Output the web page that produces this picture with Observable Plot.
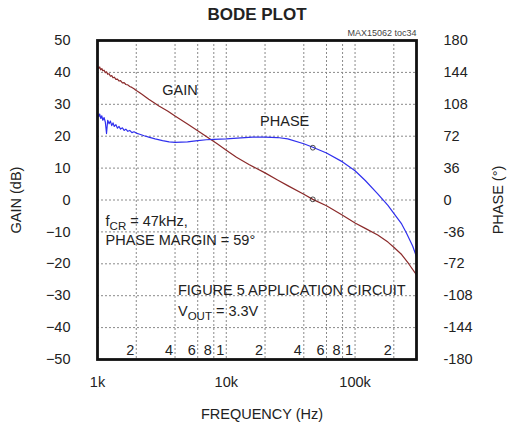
<!DOCTYPE html>
<html>
<head>
<meta charset="utf-8">
<script src="https://cdn.jsdelivr.net/npm/d3@7"></script>
<script src="https://cdn.jsdelivr.net/npm/@observablehq/plot@0.6"></script>
<style>
  html, body { margin: 0; padding: 0; background: #fff; }
  #chart { width: 520px; height: 427px; }
</style>
</head>
<body>
<div id="chart"></div>
<script>
// ---- data ----
const gainFreq = [1000,1020,1040,1060,1080,1100,1125,1150,1175,1200,1230,1260,1290,1320,1350,1390,1430,1470,1510,1560,1610,1660,1720,1780,1850,1920,2000,2100,2200,2350,2500,2750,3000,3500,4000,5000,6000,7000,8500,10000,12000,15000,20000,25000,30000,40000,47000,60000,80000,100000,120000,150000,180000,200000,230000,260000,300000];
const gainDb   = [41.9,41.2,41.7,40.8,41.2,40.5,40.7,39.9,40.2,39.4,39.6,38.8,39.0,38.3,38.5,37.8,37.9,37.3,37.4,36.7,36.8,36.2,36.1,35.6,35.3,34.9,34.3,33.8,33.2,32.4,31.6,30.5,29.5,27.9,26.3,23.8,21.7,19.9,17.6,15.6,13.4,11.1,8.5,6.3,4.5,1.8,0.2,-1.8,-4.8,-7.2,-8.9,-11.0,-13.2,-14.8,-17.1,-19.9,-23.5];

const phaseFreq = [1000,1020,1040,1060,1080,1100,1125,1150,1175,1200,1230,1260,1290,1320,1350,1390,1430,1470,1510,1560,1610,1660,1720,1780,1850,1920,2000,2100,2300,2500,2800,3200,3600,4000,5000,6000,7000,8000,10000,13000,16000,20000,25000,30000,40000,47000,60000,80000,100000,120000,150000,180000,200000,230000,250000,280000,300000];
const phaseDeg  = [98,94,97,92,95,90,93,88,75,90,86,89,84,87,83,85,81,83,80,81.5,78.5,80,77.5,78.5,76,77,75.5,74.5,72.5,71,69,67,65.5,65,65.5,67,68,68.5,69,70,71,71,70.5,69,63.5,59.5,53,43,33,22,7,-6,-15,-27,-37,-52,-64];

const markerFreq = [47000, 47000];
const markerDb   = [0.2, 59 / 3.6];

const gainTicks  = [-50,-40,-30,-20,-10,0,10,20,30,40,50];
const phaseTickLabels = ["-180","-144","-108","-72","-36","0","36","72","108","144","180"];
const gridY = [-40,-30,-20,-10,0,10,20,30,40];
const gridX = [2000,4000,6000,8000,10000,20000,40000,60000,80000,100000,200000];
const minorLabels = ["2","4","6","8","1","2","4","6","8","1","2"];
const decadeTicks = [1000,10000,100000];
const decadeLabels = ["1k","10k","100k"];

const centeredNotes = [
  {f: 4370,  db: 34.3,  text: "GAIN"},
  {f: 28400, db: 24.6,  text: "PHASE"}
];
const leftNotes = [
  {f: 1155,  db: -6.7,  text: "f{CR} = 47kHz,"},
  {f: 1155,  db: -12.7, text: "PHASE MARGIN = 59°"},
  {f: 4217,  db: -28.4, text: "FIGURE 5 APPLICATION CIRCUIT"},
  {f: 4217,  db: -35.0, text: "V{OUT} = 3.3V"}
];

const title = "BODE PLOT";
const tag = "MAX15062 toc34";
const xTitle = "FREQUENCY (Hz)";
const yTitleL = "GAIN (dB)";
const yTitleR = "PHASE (°)";

// ---- build ----
const gain = gainFreq.map((f, i) => ({f, v: gainDb[i]}));
const phase = phaseFreq.map((f, i) => ({f, v: phaseDeg[i] / 3.6}));
const markers = markerFreq.map((f, i) => ({f, v: markerDb[i]}));

const FONT = '"Liberation Sans", Arial, sans-serif';
const FS = 14.5;
const INK = "#222";
const GRID = "#8a8a8a";

const chart = Plot.plot({
  width: 520,
  height: 427,
  marginLeft: 97,
  marginRight: 104,
  marginTop: 40,
  marginBottom: 68,
  style: {fontFamily: FONT, fontSize: FS + "px", background: "#fff", color: INK},
  x: {type: "log", domain: [1000, 300000], axis: null},
  y: {domain: [-50, 50], axis: null},
  marks: [
    Plot.ruleX(gridX, {stroke: GRID, strokeDasharray: "2,2", strokeWidth: 1}),
    Plot.ruleY(gridY, {stroke: GRID, strokeDasharray: "2,2", strokeWidth: 1}),
    Plot.line(gain, {x: "f", y: "v", stroke: "#8b2a2a", strokeWidth: 1.2}),
    Plot.line(phase, {x: "f", y: "v", stroke: "#3030ee", strokeWidth: 1.2}),
    Plot.dot(markers, {x: "f", y: "v", r: 2.4, stroke: INK, strokeWidth: 0.8, fill: "none"}),
    Plot.frame({stroke: "#111", strokeWidth: 2.8}),
    Plot.axisY(gainTicks, {anchor: "left", tickSize: 0, tickPadding: 27, fontSize: FS, label: null}),
    Plot.axisY(gainTicks, {anchor: "right", tickSize: 0, tickPadding: 27, fontSize: FS, label: null,
      tickFormat: d => phaseTickLabels[gainTicks.indexOf(d)]}),
    Plot.text(gridX, {x: d => d, text: (d, i) => minorLabels[i], frameAnchor: "bottom", lineAnchor: "middle", dy: -9, dx: -2, textAnchor: "end", fontSize: FS, fill: INK}),
    Plot.text(decadeTicks, {x: d => d, text: (d, i) => decadeLabels[i], frameAnchor: "bottom", lineAnchor: "middle", textAnchor: "middle", dy: 23, fontSize: FS, fill: INK}),
    Plot.text(centeredNotes, {x: "f", y: "db", text: "text", textAnchor: "middle", fontSize: FS, fill: INK}),
    Plot.text(leftNotes, {x: "f", y: "db", text: "text", textAnchor: "start", fontSize: FS, fill: INK}),
    Plot.text([title], {frameAnchor: "top", lineAnchor: "middle", textAnchor: "middle", dy: -26, fontSize: 17, fontWeight: "bold", fill: INK}),
    Plot.text([tag], {frameAnchor: "top-right", lineAnchor: "middle", textAnchor: "end", dy: -7, fontSize: 9, fill: "#444"}),
    Plot.text([xTitle], {frameAnchor: "bottom", lineAnchor: "middle", textAnchor: "middle", dy: 55, dx: 5, fontSize: FS, fill: INK}),
    Plot.text([yTitleL], {frameAnchor: "left", lineAnchor: "middle", textAnchor: "middle", dx: -81, rotate: -90, fontSize: FS, fill: INK}),
    Plot.text([yTitleR], {frameAnchor: "right", lineAnchor: "middle", textAnchor: "middle", dx: 82, rotate: -90, fontSize: FS, fill: INK})
  ]
});

// subscripts: replace {XX} with a lowered, smaller tspan
chart.querySelectorAll("text").forEach(t => {
  if (/\{[A-Z]+\}/.test(t.textContent)) {
    const parts = t.textContent.split(/(\{[A-Z]+\})/);
    t.textContent = "";
    let lowered = false;
    parts.forEach(p => {
      if (!p) return;
      const ts = document.createElementNS("http://www.w3.org/2000/svg", "tspan");
      if (/^\{[A-Z]+\}$/.test(p)) {
        ts.textContent = p.slice(1, -1);
        ts.setAttribute("font-size", "11.5");
        ts.setAttribute("dy", "3.5");
        lowered = true;
      } else {
        ts.textContent = p;
        if (lowered) { ts.setAttribute("dy", "-3.5"); lowered = false; }
      }
      t.appendChild(ts);
    });
  }
});

document.getElementById("chart").appendChild(chart);
</script>
</body>
</html>
